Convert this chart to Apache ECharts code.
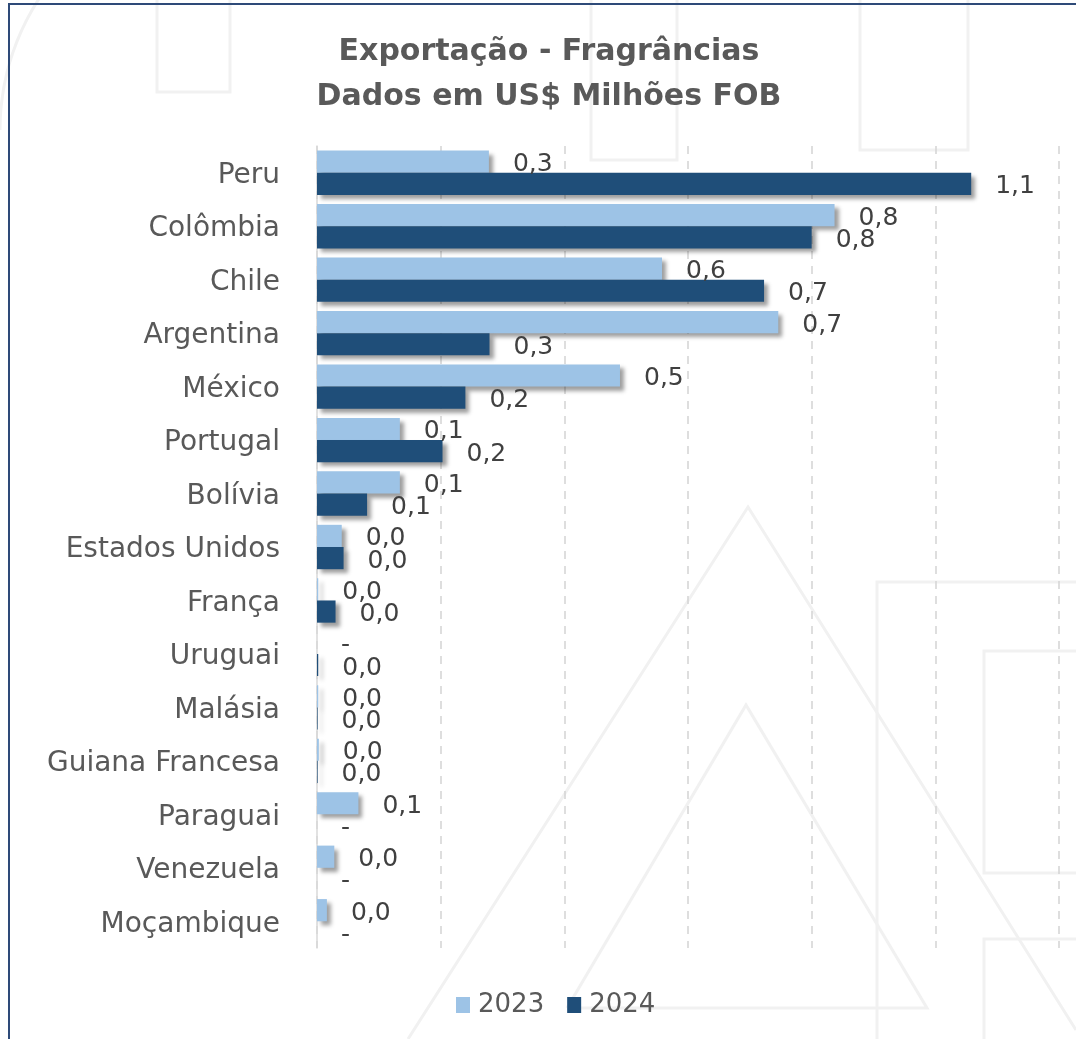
<!DOCTYPE html>
<html><head><meta charset="utf-8">
<script src="https://cdn.jsdelivr.net/npm/echarts@6/dist/echarts.min.js"></script>
<style>html,body{margin:0;padding:0;background:#fff}#c{width:1076px;height:1039px}</style>
</head><body><div id="c"></div>
<script>
const categories = ["Peru","Colômbia","Chile","Argentina","México","Portugal","Bolívia","Estados Unidos","França","Uruguai","Malásia","Guiana Francesa","Paraguai","Venezuela","Moçambique"];
const values2023 = [0.278,0.837,0.558,0.746,0.49,0.134,0.134,0.040,0.002,0,0.002,0.003,0.067,0.028,0.016];
const values2024 = [1.058,0.800,0.723,0.279,0.240,0.203,0.081,0.043,0.030,0.002,0.001,0.001,0,0,0];
const seriesNames = ["2023","2024"];
const colors = ["#9DC3E6","#1F4E79"];

const chart = echarts.init(document.getElementById('c'));
const fmt = p => p.value === 0 ? '-' : p.value.toFixed(1).replace('.', ',');
const wm = '#f1f1f1';
function mkSeries(name, data, color) {
  return {
    name, type: 'bar', data, barGap: '0%', barCategoryGap: '17%',
    itemStyle: { color, shadowColor: 'rgba(0,0,0,0.38)', shadowBlur: 4, shadowOffsetX: 4, shadowOffsetY: 4 },
    label: { show: true, position: 'right', distance: 24, formatter: fmt,
      fontFamily: 'DejaVu Sans', fontSize: 25, color: '#404040', verticalAlign: 'top', lineHeight: 6 },
    emphasis: { disabled: true }
  };
}
const ln = pts => ({ type: 'polyline', shape: { points: pts }, style: { fill: 'none', stroke: wm, lineWidth: 3 } });
chart.setOption({
  backgroundColor: '#fff',
  animation: false,
  title: {
    text: 'Exportação - Fragrâncias\nDados em US$ Milhões FOB',
    left: 549, top: 30, textAlign: 'center', padding: 0,
    textStyle: { fontFamily: 'DejaVu Sans', fontWeight: 'bold', fontSize: 30, color: '#595959', lineHeight: 45 }
  },
  legend: {
    data: seriesNames, bottom: 16, left: 451, icon: 'rect', itemWidth: 14, itemHeight: 16, itemGap: 23,
    textStyle: { fontFamily: 'DejaVu Sans', fontSize: 26, color: '#595959', padding: [0,0,0,3] }
  },
  grid: { left: 317, right: 17, top: 146, bottom: 91 },
  xAxis: {
    type: 'value', min: 0, max: 1.2, interval: 0.2,
    axisLabel: { show: false }, axisLine: { show: false }, axisTick: { show: false },
    splitLine: { show: true, lineStyle: { color: '#d4d4d4', width: 1.5, type: [8, 7] } }
  },
  yAxis: {
    type: 'category', data: categories, inverse: true,
    axisLine: { show: true, lineStyle: { color: '#d9d9d9', width: 1.5 } },
    axisTick: { show: false },
    axisLabel: { fontFamily: 'DejaVu Sans', fontSize: 28, color: '#595959', margin: 37, verticalAlign: 'top', lineHeight: 6 }
  },
  series: [mkSeries(seriesNames[0], values2023, colors[0]), mkSeries(seriesNames[1], values2024, colors[1])],
  graphic: [
    { type: 'group', silent: true, z: -10, children: [
      ln([[408,1039],[748,507],[1076,1030]]),
      ln([[567,1008],[746,705],[927,1008],[567,1008]]),
      ln([[877,1039],[877,582],[1076,582]]),
      ln([[1076,651],[984,651],[984,873],[1076,873]]),
      ln([[984,1039],[984,939],[1076,939]]),
      ln([[591,0],[591,160],[677,160],[677,0]]),
      ln([[860,0],[860,150],[968,150],[968,0]]),
      ln([[157,0],[157,92],[230,92],[230,0]]),
      { type: 'arc', shape: { cx: 240, cy: 130, r: 240, startAngle: Math.PI, endAngle: Math.PI*1.24, clockwise: true }, style: { fill: 'none', stroke: wm, lineWidth: 3 } }
    ]},
    { type: 'rect', silent: true, z: 100, shape: { x: 9, y: 4, width: 1200, height: 1200 }, style: { fill: 'none', stroke: '#2E4A78', lineWidth: 2 } }
  ]
});
</script></body></html>
